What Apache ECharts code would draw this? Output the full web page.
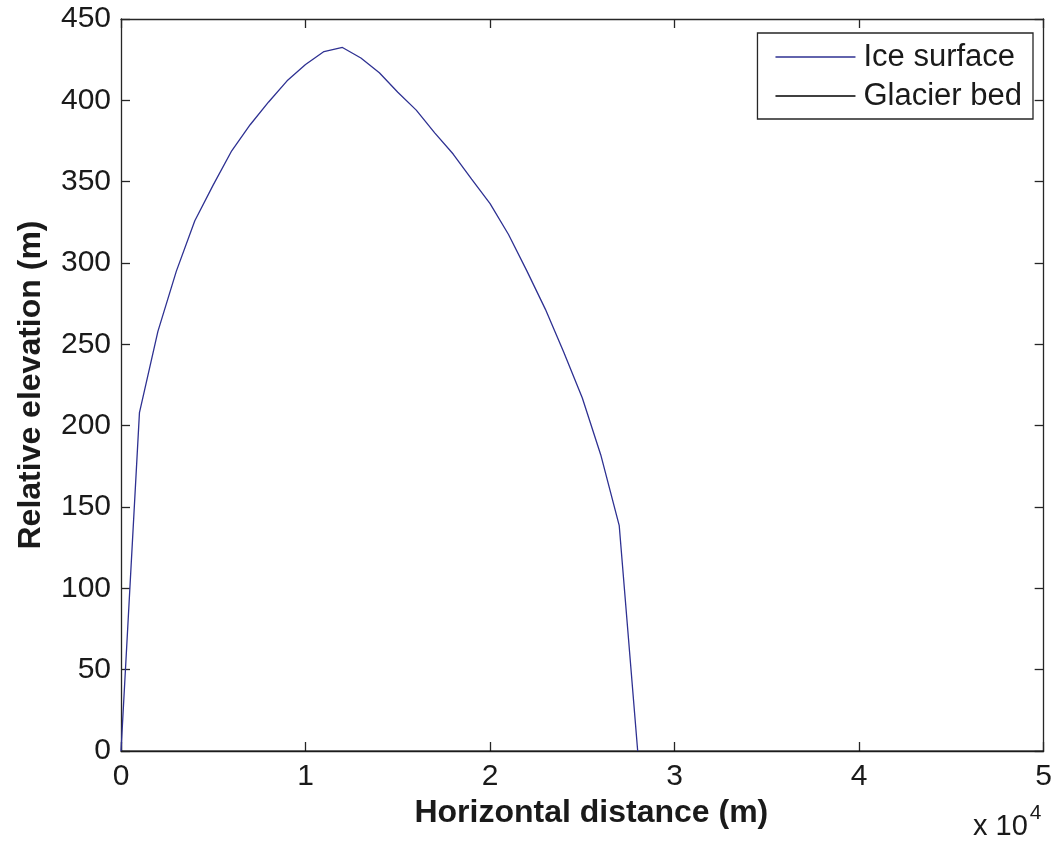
<!DOCTYPE html>
<html>
<head>
<meta charset="utf-8">
<script src="https://cdn.jsdelivr.net/npm/echarts@6/dist/echarts.min.js"></script>
<style>html,body{margin:0;padding:0;background:#fff;}#c{width:1055px;height:845px;}</style>
</head>
<body>
<div id="c"></div>
<script>
// Horizontal distance (m)
const distance = [0,1000,2000,3000,4000,5000,6000,7000,8000,9000,10000,11000,12000,13000,14000,15000,16000,17000,18000,19000,20000,21000,22000,23000,24000,25000,26000,27000,28000];
// Ice surface elevation (m)
const iceSurface = [0,208,258,295,326,348,369,385,399,412,422,430,432.5,426,417,405,394,380,367,351.5,336.5,317.5,295,271.5,245,217,182,138.5,0];
// Glacier bed (flat at 0)
const bedDistance = [0,50000];
const bedElevation = [0,0];
const xTicks = [0,1,2,3,4,5];
const yTicks = [0,50,100,150,200,250,300,350,400,450];

const FONT = 'Liberation Sans, Arial, Helvetica, sans-serif';
const AX = '#262626';
const chart = echarts.init(document.getElementById('c'), null, {renderer:'canvas'});
function axisCommon(){
  return {
    axisLine:{show:true,onZero:false,lineStyle:{color:AX,width:1.3}},
    axisTick:{show:true,inside:true,length:9,lineStyle:{color:AX,width:1.3}},
    splitLine:{show:false}
  };
}
chart.setOption({
  animation:false,
  backgroundColor:'#fff',
  grid:{left:121,right:9,top:19,bottom:94},
  legend:{
    right:22, top:33, orient:'vertical',
    backgroundColor:'#fff', borderColor:AX, borderWidth:1.3,
    padding:[6,11,5,18], itemGap:3, itemWidth:80, itemHeight:1.3,
    textStyle:{fontFamily:FONT,fontSize:31,color:'#1a1a1a',lineHeight:36,padding:[0,0,0,3]},
    data:[{name:'Ice surface',icon:'rect'},{name:'Glacier bed',icon:'rect'}]
  },
  xAxis:[
    Object.assign({type:'value',min:xTicks[0]*1e4,max:xTicks[xTicks.length-1]*1e4,interval:1e4,position:'bottom',
      name:'Horizontal distance (m)',nameLocation:'middle',nameGap:43,
      nameTextStyle:{fontFamily:FONT,fontSize:32,fontWeight:'bold',color:'#1a1a1a',lineHeight:32,padding:[0,0,0,18]},
      axisLabel:{fontFamily:FONT,fontSize:30,color:'#1a1a1a',margin:11,lineHeight:30,formatter:v=>String(v/1e4)}},axisCommon()),
    Object.assign({type:'value',min:0,max:50000,interval:1e4,position:'top',axisLabel:{show:false}},axisCommon())
  ],
  yAxis:[
    Object.assign({type:'value',min:yTicks[0],max:yTicks[yTicks.length-1],interval:50,position:'left',
      name:'Relative elevation (m)',nameLocation:'middle',nameGap:74,
      nameTextStyle:{fontFamily:FONT,fontSize:32,fontWeight:'bold',color:'#1a1a1a',lineHeight:32},
      axisLabel:{fontFamily:FONT,fontSize:30,color:'#1a1a1a',margin:10}},axisCommon()),
    Object.assign({type:'value',min:0,max:450,interval:50,position:'right',axisLabel:{show:false}},axisCommon())
  ],
  graphic:[{
    type:'text', left:973, top:803,
    style:{
      text:'{b|x 10}{s|4}',
      rich:{
        b:{fontFamily:FONT,fontSize:29,fill:'#1a1a1a',verticalAlign:'bottom',lineHeight:38},
        s:{fontFamily:FONT,fontSize:21,fill:'#1a1a1a',verticalAlign:'top',lineHeight:38,padding:[0,0,20,2]}
      }
    }
  }],
  series:[
    {name:'Glacier bed',type:'line',xAxisIndex:0,yAxisIndex:0,showSymbol:false,
      lineStyle:{color:'#000',width:1.2},itemStyle:{color:'#000'},
      data:bedDistance.map((x,i)=>[x,bedElevation[i]]),z:1},
    {name:'Ice surface',type:'line',xAxisIndex:0,yAxisIndex:0,showSymbol:false,
      lineStyle:{color:'#2e3192',width:1.3},itemStyle:{color:'#2e3192'},
      data:distance.map((x,i)=>[x,iceSurface[i]]),z:2}
  ]
});
</script>
</body>
</html>
